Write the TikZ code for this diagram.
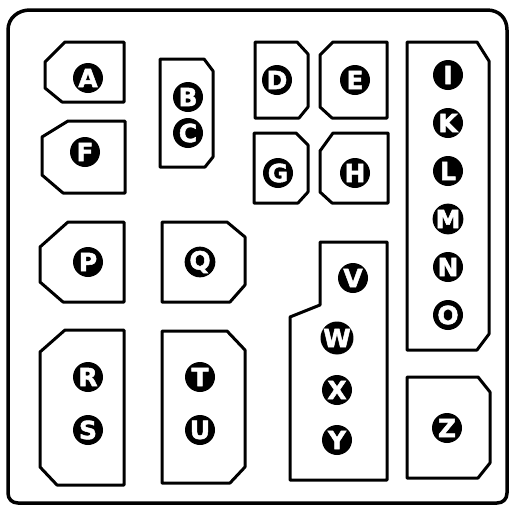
\documentclass[tikz,border=0pt]{standalone}
\usepackage{fontspec}
\setmainfont{Liberation Sans}
\newfontfamily\lblfont[FakeBold=2]{DejaVu Sans Bold}
\begin{document}
\begin{tikzpicture}[x=1pt,y=-1pt,
  frame/.style={draw=black,line width=3.5pt,line join=round},
  fusebox/.style={draw=black,line width=3pt,line join=round},
  lbl/.style={circle,fill=black,text=white,minimum size=30pt,inner sep=0pt,
    font=\lblfont\fontsize{25}{25}\selectfont}]
\useasboundingbox[fill=white] (0,0) rectangle (511,509);
% outer frame
\draw[frame] (8,30) .. controls (8,18) and (18,10) .. (30,10) -- (487,10)
  .. controls (499,10) and (507,18) .. (507,30) -- (507,493)
  .. controls (507,499) and (503,503) .. (497,503) -- (18,503)
  .. controls (12,503) and (8,499) .. (8,493) -- cycle;
% boxes
\draw[fusebox] (65,42) -- (124,42) -- (124,102) -- (62,102) -- (45,88) -- (45,62) -- cycle;
\draw[fusebox] (68,121) -- (125,121) -- (125,193) -- (63,193) -- (42,175) -- (42,137) -- cycle;
\draw[fusebox] (160,59) -- (204,59) -- (213,71) -- (213,157) -- (205,167) -- (160,167) -- cycle;
\draw[fusebox] (255,42) -- (297,42) -- (308,54) -- (308,107) -- (299,118) -- (255,118) -- cycle;
\draw[fusebox] (333,42) -- (387,42) -- (387,118) -- (332,118) -- (320,107) -- (320,55) -- cycle;
\draw[fusebox] (254,133) -- (296,133) -- (308,145) -- (308,192) -- (298,203) -- (254,203) -- cycle;
\draw[fusebox] (333,133) -- (388,133) -- (388,203) -- (332,203) -- (320,192) -- (320,151) -- cycle;
\draw[fusebox] (407,42) -- (477,42) -- (489,61) -- (489,334) -- (477,350) -- (407,350) -- cycle;
\draw[fusebox] (407,377) -- (478,377) -- (490,392) -- (490,463) -- (478,478) -- (407,478) -- cycle;
\draw[fusebox] (320,242) -- (387,242) -- (387,480) -- (290,480) -- (290,317) -- (320,305) -- cycle;
\draw[fusebox] (68,222) -- (124,222) -- (124,302) -- (63,302) -- (40,282) -- (40,247) -- cycle;
\draw[fusebox] (162,222) -- (227,222) -- (245,237) -- (245,285) -- (230,302) -- (162,302) -- cycle;
\draw[fusebox] (65,330) -- (124,330) -- (124,485) -- (57,485) -- (40,467) -- (40,352) -- cycle;
\draw[fusebox] (162,331) -- (227,331) -- (245,350) -- (245,467) -- (230,483) -- (162,483) -- cycle;
% labels
\node[lbl] (A) at (88,78) {A};
\node[lbl] (F) at (85,152) {F};
\node[lbl] (B) at (188,97) {B};
\node[lbl] (C) at (188,133) {C};
\node[lbl] (D) at (277,80) {D};
\node[lbl] (E) at (355,80) {E};
\node[lbl] (G) at (278,173) {G};
\node[lbl] (H) at (355,173) {H};
\node[lbl] (I) at (448,75) {I};
\node[lbl] (K) at (448,123) {K};
\node[lbl] (L) at (448,171) {L};
\node[lbl] (M) at (448,219) {M};
\node[lbl] (N) at (448,267) {N};
\node[lbl] (O) at (448,315) {O};
\node[lbl] (P) at (88,262) {P};
\node[lbl] (Q) at (200,262) {Q};
\node[lbl] (R) at (88,377) {R};
\node[lbl] (S) at (88,430) {S};
\node[lbl] (T) at (200,377) {T};
\node[lbl] (U) at (200,430) {U};
\node[lbl] (V) at (353,278) {V};
\node[lbl] (W) at (337,338) {W};
\node[lbl] (X) at (337,390) {X};
\node[lbl] (Y) at (337,440) {Y};
\node[lbl] (Z) at (447,428) {Z};
\end{tikzpicture}
\end{document}
